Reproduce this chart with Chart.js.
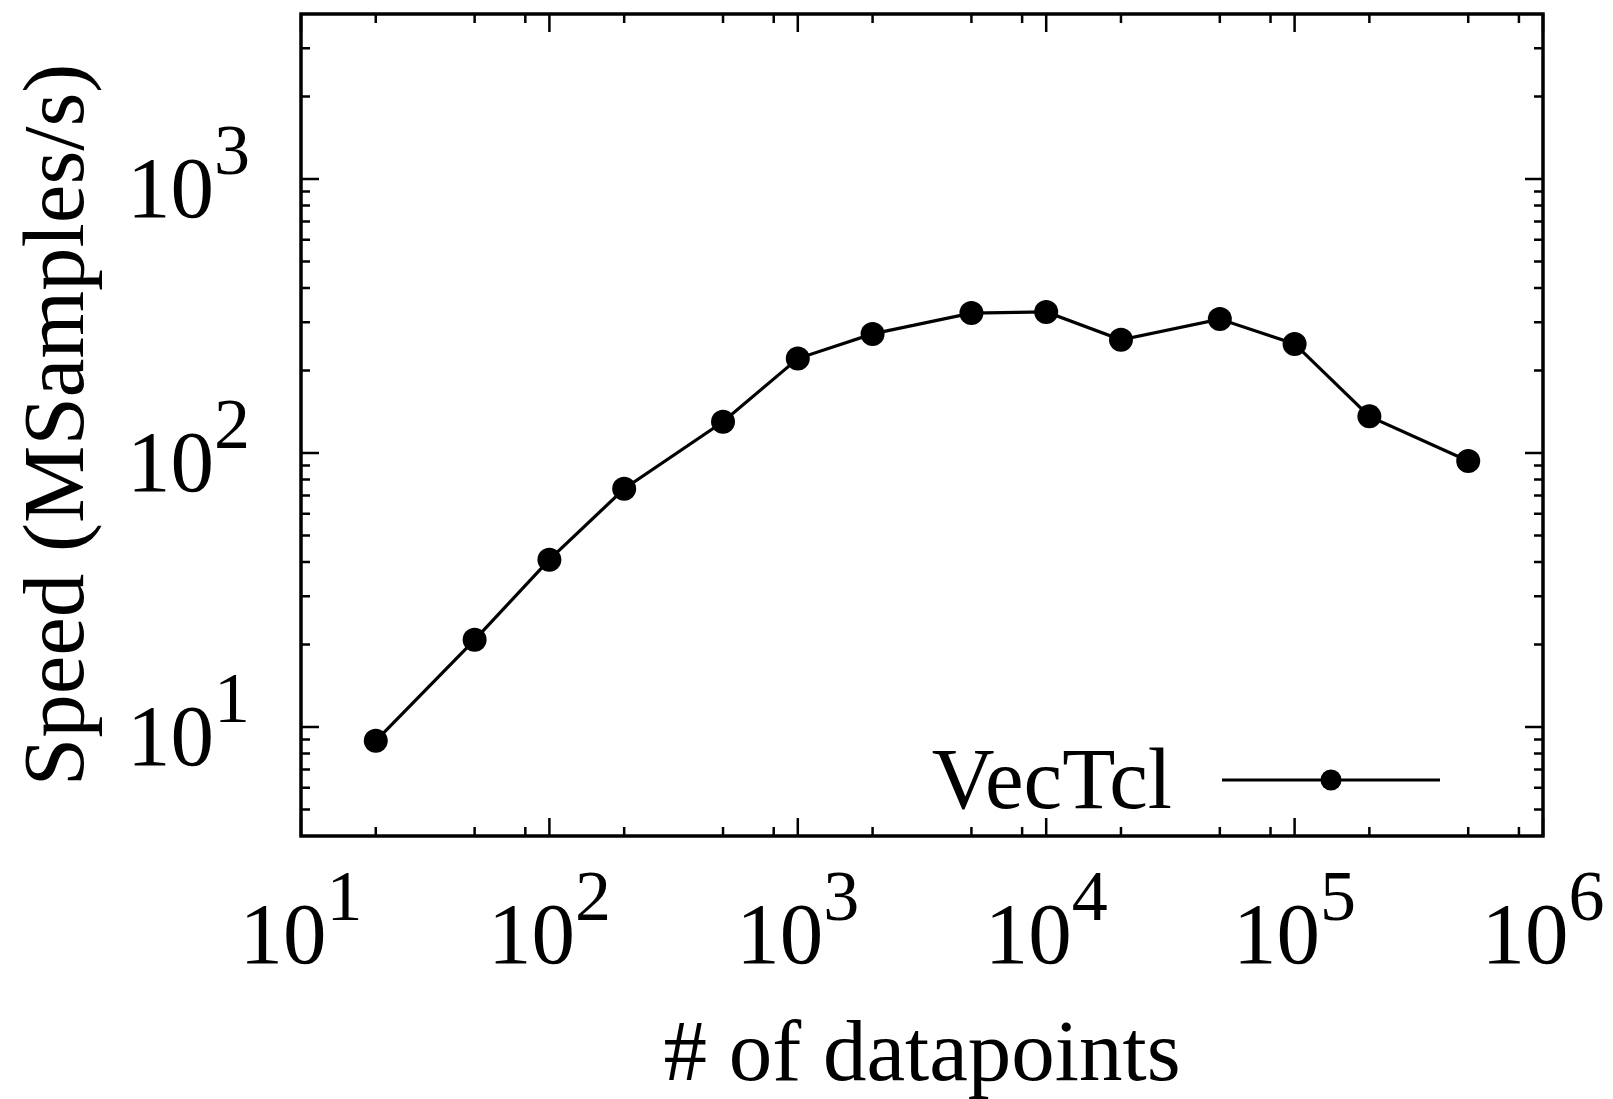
<!DOCTYPE html>
<html>
<head>
<meta charset="utf-8">
<title>VecTcl speed</title>
<script src="https://cdn.jsdelivr.net/npm/chart.js@4.4.1/dist/chart.umd.min.js"></script>
<style>
  html, body { margin: 0; padding: 0; background: #fff; }
  #wrap { width: 1613px; height: 1099px; }
</style>
</head>
<body>
<div id="wrap"><canvas id="speedChart" width="1613" height="1099"></canvas></div>
<script>
// measured throughput of VecTcl vs. vector length
const sizes  = [20, 50, 100, 200, 500, 1000, 2000, 5000, 10000, 20000, 50000, 100000, 200000, 500000];
const speeds = [8.9, 20.8, 40.8, 74, 130, 221, 272, 324, 327, 259, 308, 250, 136, 93.5];

const seriesName = 'VecTcl';
const xTitle = '# of datapoints';
const yTitle = 'Speed (MSamples/s)';

// axis decades and the minor tick mantissas inside each decade
const xExponents = [1, 2, 3, 4, 5, 6];
const yExponents = [1, 2, 3];
const xMinor = [2, 5, 8];
const yMinor = [2, 3, 4, 5, 6, 7, 8, 9];
const xRange = [10, 1e6];
const yRange = [4, 4000];

const FONT = '"Liberation Serif", "Times New Roman", serif';
const BIG = 87;
const SUP = 72;
const SUP_RAISE = 43;

function minorValues(mants, lo, hi) {
  const out = [];
  for (let e = Math.floor(Math.log10(lo)); e <= Math.ceil(Math.log10(hi)); e++) {
    mants.forEach(m => {
      const v = m * Math.pow(10, e);
      if (v > lo && v < hi) out.push(v);
    });
  }
  return out;
}

// draws "10" with a raised exponent; align is 'center' or 'right'
function drawPower(ctx, exp, x, baseline, align) {
  ctx.font = BIG + 'px ' + FONT;
  const wBase = ctx.measureText('10').width;
  ctx.font = SUP + 'px ' + FONT;
  const wSup = ctx.measureText(String(exp)).width;
  const total = wBase + wSup;
  const start = align === 'right' ? x - total : x - total / 2;
  ctx.textAlign = 'left';
  ctx.textBaseline = 'alphabetic';
  ctx.font = BIG + 'px ' + FONT;
  ctx.fillText('10', start, baseline);
  ctx.font = SUP + 'px ' + FONT;
  ctx.fillText(String(exp), start + wBase, baseline - SUP_RAISE);
}

const gnuplotFrame = {
  id: 'gnuplotFrame',
  beforeDatasetsDraw(chart) {
    const { ctx, chartArea: a, scales } = chart;
    const xs = scales.x, ys = scales.y;
    ctx.save();
    ctx.strokeStyle = '#000';
    ctx.lineCap = 'butt';

    // inward ticks, mirrored on the opposite side
    ctx.lineWidth = 2.5;
    const tick = (v, len, horizontal) => {
      ctx.beginPath();
      if (horizontal) {
        const px = xs.getPixelForValue(v);
        ctx.moveTo(px, a.bottom); ctx.lineTo(px, a.bottom - len);
        ctx.moveTo(px, a.top);    ctx.lineTo(px, a.top + len);
      } else {
        const py = ys.getPixelForValue(v);
        ctx.moveTo(a.left, py);  ctx.lineTo(a.left + len, py);
        ctx.moveTo(a.right, py); ctx.lineTo(a.right - len, py);
      }
      ctx.stroke();
    };
    xExponents.forEach(e => tick(Math.pow(10, e), 18, true));
    minorValues(xMinor, xRange[0], xRange[1]).forEach(v => tick(v, 9, true));
    yExponents.forEach(e => tick(Math.pow(10, e), 18, false));
    minorValues(yMinor, yRange[0], yRange[1]).forEach(v => tick(v, 9, false));

    ctx.lineWidth = 3.5;
    ctx.strokeRect(a.left, a.top, a.right - a.left, a.bottom - a.top);
    ctx.restore();
  },
  afterDraw(chart) {
    const { ctx, chartArea: a, scales } = chart;
    const ds = chart.data.datasets[0];
    ctx.save();
    ctx.fillStyle = '#000';

    xExponents.forEach(e => {
      drawPower(ctx, e, scales.x.getPixelForValue(Math.pow(10, e)), a.bottom + 127, 'center');
    });
    yExponents.forEach(e => {
      drawPower(ctx, e, 250, scales.y.getPixelForValue(Math.pow(10, e)) + 38, 'right');
    });

    ctx.font = BIG + 'px ' + FONT;
    ctx.textAlign = 'center';
    ctx.textBaseline = 'alphabetic';
    ctx.fillText(xTitle, (a.left + a.right) / 2, 1080);

    ctx.save();
    ctx.translate(83, (a.top + a.bottom) / 2);
    ctx.rotate(-Math.PI / 2);
    ctx.fillText(yTitle, 0, 0);
    ctx.restore();

    // key in the lower right corner: label, then line sample with a point
    ctx.textAlign = 'right';
    ctx.fillText(seriesName, 1172, 808);
    const kx0 = 1222, kx1 = 1440, ky = 780;
    ctx.strokeStyle = ds.borderColor;
    ctx.lineWidth = ds.borderWidth;
    ctx.beginPath();
    ctx.moveTo(kx0, ky);
    ctx.lineTo(kx1, ky);
    ctx.stroke();
    ctx.beginPath();
    ctx.arc((kx0 + kx1) / 2, ky, ds.pointRadius - 1.5, 0, Math.PI * 2);
    ctx.fillStyle = ds.pointBackgroundColor;
    ctx.fill();
    ctx.restore();
  }
};

new Chart(document.getElementById('speedChart').getContext('2d'), {
  type: 'line',
  data: {
    datasets: [{
      label: seriesName,
      data: sizes.map((n, i) => ({ x: n, y: speeds[i] })),
      borderColor: '#000',
      borderWidth: 3.2,
      pointRadius: 12,
      pointBackgroundColor: '#000',
      pointBorderWidth: 0,
      tension: 0,
      fill: false
    }]
  },
  options: {
    responsive: false,
    animation: false,
    layout: { padding: { left: 301, right: 70, top: 14, bottom: 263 } },
    plugins: { legend: { display: false }, tooltip: { enabled: false } },
    scales: {
      x: { type: 'logarithmic', min: xRange[0], max: xRange[1], display: false },
      y: { type: 'logarithmic', min: yRange[0], max: yRange[1], display: false }
    }
  },
  plugins: [gnuplotFrame]
});
</script>
</body>
</html>
